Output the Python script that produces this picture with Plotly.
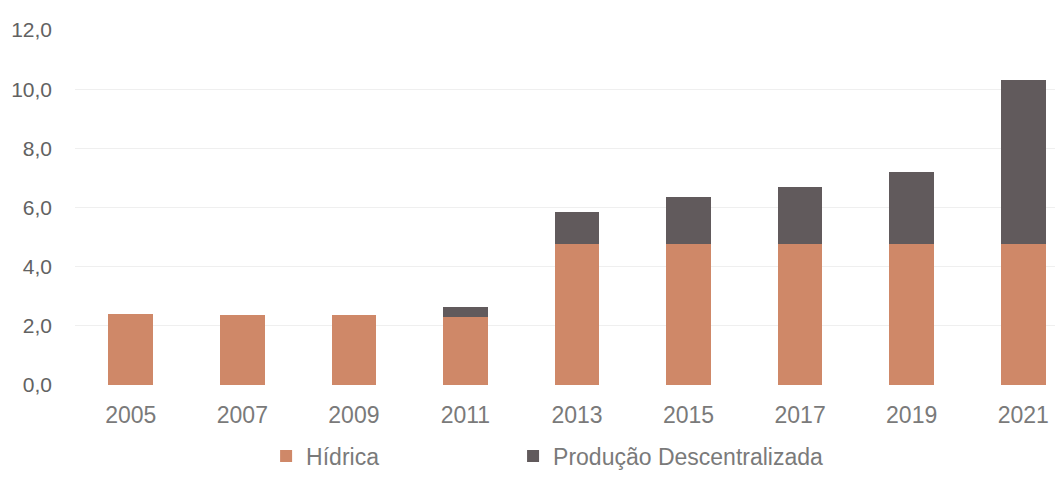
import plotly.graph_objects as go

anos = ["2005", "2007", "2009", "2011", "2013", "2015", "2017", "2019", "2021"]
hidrica = [2.4, 2.35, 2.35, 2.3, 4.75, 4.75, 4.75, 4.75, 4.75]
descentralizada = [0, 0, 0, 0.35, 1.1, 1.6, 1.95, 2.45, 5.55]
y_ticks = [0, 2, 4, 6, 8, 10, 12]
y_tick_labels = ["0,0", "2,0", "4,0", "6,0", "8,0", "10,0", "12,0"]

fig = go.Figure()
fig.add_trace(go.Bar(x=anos, y=hidrica, name="Hídrica", legend="legend",
                     marker=dict(color="#CF8868", line=dict(width=0))))
fig.add_trace(go.Bar(x=anos, y=descentralizada, name="Produção Descentralizada",
                     legend="legend2",
                     marker=dict(color="#615A5C", line=dict(width=0))))

# legends sit low, just above the bottom edge of the page
legend_style = dict(orientation="h", xanchor="left", y=-0.2, yanchor="middle",
                    itemwidth=30, font=dict(size=23, color="#7a7a7a"))

fig.update_layout(
    barmode="stack",
    bargap=0.6,
    width=1047, height=462,
    margin=dict(l=67, r=0, t=22, b=85, autoexpand=False),
    plot_bgcolor="white", paper_bgcolor="white",
    font=dict(family="Liberation Sans, Arial", size=21, color="#6a6a6a"),
    xaxis=dict(type="category", range=[-0.5, 8.285], showgrid=False,
               ticks="", ticklabelstandoff=14, automargin=False,
               tickfont=dict(size=23, color="#7a7a7a")),
    yaxis=dict(range=[0, 12], tickvals=y_ticks, ticktext=y_tick_labels,
               showgrid=True, gridcolor="#efefef", gridwidth=1,
               zeroline=False, ticks="", ticklabelstandoff=22, automargin=False,
               tickfont=dict(color="#626262")),
    legend=dict(x=0.195, **legend_style),
    legend2=dict(x=0.447, **legend_style),
    showlegend=True,
)

fig.write_html("out.html")
